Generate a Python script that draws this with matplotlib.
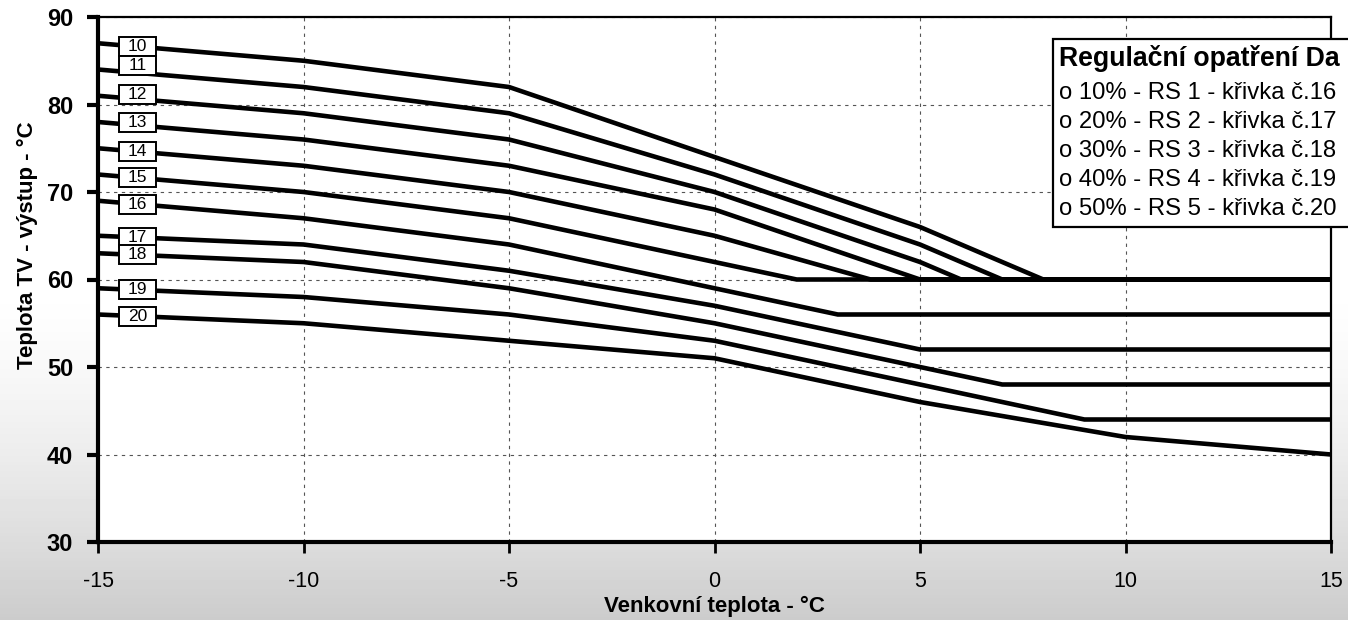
import numpy as np
import matplotlib.pyplot as plt
from matplotlib.patches import Rectangle

plt.rcParams['font.family'] = ['Liberation Sans', 'DejaVu Sans']
plt.rcParams['axes.unicode_minus'] = False

# outdoor temperature breakpoints (x) and TV outlet temperature (y) per curve
x10 = [-15, -10, -5, 0, 5, 8, 15]
y10 = [87, 85, 82, 74, 66, 60, 60]
x11 = [-15, -10, -5, 0, 5, 7, 15]
y11 = [84, 82, 79, 72, 64, 60, 60]
x12 = [-15, -10, -5, 0, 5, 6, 15]
y12 = [81, 79, 76, 70, 62, 60, 60]
x13 = [-15, -10, -5, 0, 5, 15]
y13 = [78, 76, 73, 68, 60, 60]
x14 = [-15, -10, -5, 0, 3.8, 15]
y14 = [75, 73, 70, 65, 60, 60]
x15 = [-15, -10, -5, 0, 2, 15]
y15 = [72, 70, 67, 62, 60, 60]
x16 = [-15, -10, -5, 0, 3, 15]
y16 = [69, 67, 64, 59, 56, 56]
x17 = [-15, -10, -5, 0, 5, 15]
y17 = [65, 64, 61, 57, 52, 52]
x18 = [-15, -10, -5, 0, 7, 15]
y18 = [63, 62, 59, 55, 48, 48]
x19 = [-15, -10, -5, 0, 9, 15]
y19 = [59, 58, 56, 53, 44, 44]
x20 = [-15, -10, -5, 0, 5, 10, 15]
y20 = [56, 55, 53, 51, 46, 42, 40]

curve_nums = [10, 11, 12, 13, 14, 15, 16, 17, 18, 19, 20]
curves = [(x10, y10), (x11, y11), (x12, y12), (x13, y13), (x14, y14), (x15, y15),
          (x16, y16), (x17, y17), (x18, y18), (x19, y19), (x20, y20)]

# the scan cuts the legend title at the right edge
legend_title = "Regulační opatření Da"
legend_rows = ["o 10% - RS 1 - křivka č.16",
               "o 20% - RS 2 - křivka č.17",
               "o 30% - RS 3 - křivka č.18",
               "o 40% - RS 4 - křivka č.19",
               "o 50% - RS 5 - křivka č.20"]

xticks = [-15, -10, -5, 0, 5, 10, 15]
yticks = [30, 40, 50, 60, 70, 80, 90]

W, H = 1348, 620
fig = plt.figure(figsize=(W / 100, H / 100), dpi=100)

# scanned-paper background, greyer towards the bottom
bg = fig.add_axes([0, 0, 1, 1], zorder=-10)
yy = np.linspace(0, 1, 200)[:, None]
shade = 1 - 0.2 * np.clip((yy - 0.45) / 0.55, 0, 1) ** 1.5
bg.imshow(shade, cmap='gray', vmin=0, vmax=1, aspect='auto', extent=[0, 1, 0, 1], origin='upper')
bg.axis('off')

ax = fig.add_axes([98 / W, 1 - 542 / H, (1331 - 98) / W, (542 - 17) / H])
ax.set_facecolor('white')

for (xs, ys) in curves:
    ax.plot(xs, ys, color='black', lw=3.3, solid_joinstyle='miter', zorder=3)

ax.set_xlim(-15, 15)
ax.set_ylim(30, 90)
ax.set_xticks(xticks)
ax.set_yticks(yticks)
ax.grid(True, color='#555555', linestyle=(0, (3, 4)), lw=0.8, zorder=0)

for s in ['left', 'bottom']:
    ax.spines[s].set_linewidth(3)
for s in ['top', 'right']:
    ax.spines[s].set_linewidth(1.6)

ax.tick_params(axis='y', length=8, width=3, pad=10, labelsize=17)
ax.tick_params(axis='x', length=8, width=2, pad=13, labelsize=15.5)
for lab in ax.get_yticklabels():
    lab.set_fontweight('bold')

# curve number boxes
box_x = -14.04
box_w = 0.9
box_h = 2.17
nudge = {11: 0.8, 12: 0.5, 13: 0.3}
for num, (xs, ys) in zip(curve_nums, curves):
    yc = np.interp(box_x, xs, ys) + nudge.get(num, 0)
    ax.add_patch(Rectangle((box_x - box_w / 2, yc - box_h / 2), box_w, box_h,
                           facecolor='white', edgecolor='black', lw=1.4, zorder=5))
    ax.text(box_x, yc, str(num), ha='center', va='center', fontsize=12.5, zorder=6)

fig.text(714 / W, 1 - 606 / H, "Venkovní teplota - °C", ha='center', va='center',
         fontsize=16, fontweight='bold')
fig.text(27 / W, 1 - 245 / H, "Teplota TV - výstup - °C", ha='center', va='center',
         rotation=90, fontsize=16, fontweight='bold')

# legend box (runs off the right edge like the scan)
box = Rectangle((1053 / W, 1 - 227 / H), 0.4, 188 / H, transform=fig.transFigure,
                facecolor='white', edgecolor='black', lw=1.6, zorder=20)
fig.add_artist(box)
fig.text(1059 / W, 1 - 59 / H, legend_title, ha='left', va='center', fontsize=19.2,
         fontweight='bold', zorder=21)
for i, row in enumerate(legend_rows):
    fig.text(1059 / W, 1 - (93 + 29 * i) / H, row, ha='left', va='center', fontsize=17.2,
             zorder=21)

fig.savefig('out.png', dpi=100)
